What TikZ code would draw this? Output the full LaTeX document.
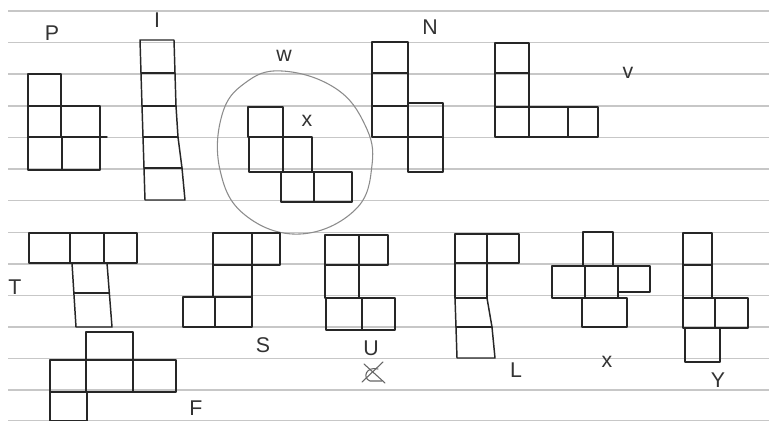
\documentclass[tikz,border=0pt]{standalone}
\usepackage{fontspec}
\setmainfont{Liberation Sans}
\begin{document}
\begin{tikzpicture}[x=0.75pt,y=-0.75pt,
  rule/.style={draw=black!22,line width=0.8pt},
  sk/.style={draw=black!85,line width=1.1pt,line join=round,line cap=round},
  ring/.style={draw=black!45,line width=0.8pt},
  lbl/.style={text=black!80,font=\fontsize{16}{16}\selectfont,inner sep=0pt}]
\newcommand\pcell[4]{\draw[sk] (#1,#2) rectangle (#3,#4);}
\fill[white] (0,0) rectangle (769,421);
\useasboundingbox (0,0) rectangle (769,421);
% ruled lines
\foreach \yy in {11,42.5,74,106,137.5,169,200.5,232.5,264,295.5,327,358.5,390,420.5}
  \draw[rule] (8,\yy) -- (769,\yy);
% P
\pcell{28}{74}{61}{106}
\pcell{28}{106}{61}{137}
\pcell{61}{106}{100}{137}
\pcell{28}{137}{62}{170}
\pcell{62}{137}{100}{170}
\draw[sk] (100,137) -- (107,137);
% I
\draw[sk] (140,40) -- (174,40) -- (175,73) -- (176,106) -- (178,137) -- (182,168) -- (185,200) -- (145,200) -- (144,168) -- (143,137) -- (142,106) -- (141,73) -- cycle;
\draw[sk] (141,73) -- (175,73);
\draw[sk] (142,106) -- (176,106);
\draw[sk] (143,137) -- (178,137);
\draw[sk] (144,168) -- (182,168);
% W (in ring)
\draw[ring] plot[smooth cycle,tension=0.7] coordinates {(282,71) (335,88) (365,125) (372,165) (355,210) (300,234) (245,215) (220,170) (222,115) (245,83)};
\pcell{248}{107}{283}{137}
\pcell{249}{137}{283}{172}
\pcell{283}{137}{312}{172}
\pcell{281}{172}{314}{202}
\pcell{314}{172}{352}{202}
% N
\pcell{372}{42}{408}{73}
\pcell{372}{73}{408}{106}
\pcell{372}{106}{408}{137}
\pcell{408}{103}{443}{137}
\pcell{408}{137}{443}{172}
% V
\pcell{495}{43}{529}{73}
\pcell{495}{73}{529}{107}
\pcell{495}{107}{529}{137}
\pcell{529}{107}{568}{137}
\pcell{568}{107}{598}{137}
% T
\pcell{29}{233}{70}{263}
\pcell{70}{233}{104}{263}
\pcell{104}{233}{137}{263}
\draw[sk] (72,263) -- (76,327) -- (112,327) -- (107,263);
\draw[sk] (74,293) -- (109,293);
% S
\pcell{213}{233}{252}{265}
\pcell{252}{233}{280}{265}
\pcell{213}{265}{252}{297}
\pcell{183}{297}{215}{327}
\pcell{215}{297}{252}{327}
% U
\pcell{325}{235}{359}{265}
\pcell{359}{235}{388}{265}
\pcell{325}{265}{359}{298}
\pcell{326}{298}{362}{330}
\pcell{362}{298}{395}{330}
% F
\pcell{86}{332}{133}{360}
\pcell{50}{360}{86}{392}
\pcell{86}{360}{133}{392}
\pcell{133}{360}{176}{392}
\pcell{50}{392}{87}{421}
% L
\pcell{455}{234}{487}{263}
\pcell{487}{234}{519}{263}
\pcell{455}{263}{487}{298}
\draw[sk] (455,298) -- (456,327) -- (457,358) -- (495,358) -- (492,327) -- (487,298);
\draw[sk] (456,327) -- (492,327);
% X
\pcell{583}{232}{613}{266}
\pcell{552}{266}{585}{298}
\pcell{585}{266}{618}{298}
\pcell{618}{266}{650}{292}
\pcell{582}{298}{627}{327}
% Y
\pcell{683}{233}{712}{265}
\pcell{683}{265}{712}{298}
\pcell{683}{298}{715}{328}
\pcell{715}{298}{748}{328}
\pcell{685}{328}{720}{362}
% labels
\node[lbl] (lP) at (52,33) {P};
\node[lbl] (lI) at (157,20) {I};
\node[lbl] (lW) at (284,56) {w};
\node[lbl] (lx1) at (307,121) {x};
\node[lbl] (lN) at (430,27) {N};
\node[lbl] (lV) at (628,73) {v};
\node[lbl] (lT) at (15,287) {T};
\node[lbl] (lS) at (263,345) {S};
\node[lbl] (lU) at (371,348) {U};
\node[lbl] (lF) at (196,408) {F};
\node[lbl] (lL) at (516,370) {L};
\node[lbl] (lx2) at (607,362) {x};
\node[lbl] (lY) at (718,380) {Y};
% crossed-out mark under U
\draw[sk,draw=black!60,line width=0.8pt] (383,362) -- (362,382);
\draw[sk,draw=black!60,line width=0.8pt] (364,364) -- (385,383);
\draw[sk,draw=black!60,line width=0.8pt] (378,369) .. controls (366,366) and (362,378) .. (370,381) -- (382,381);
\end{tikzpicture}
\end{document}
